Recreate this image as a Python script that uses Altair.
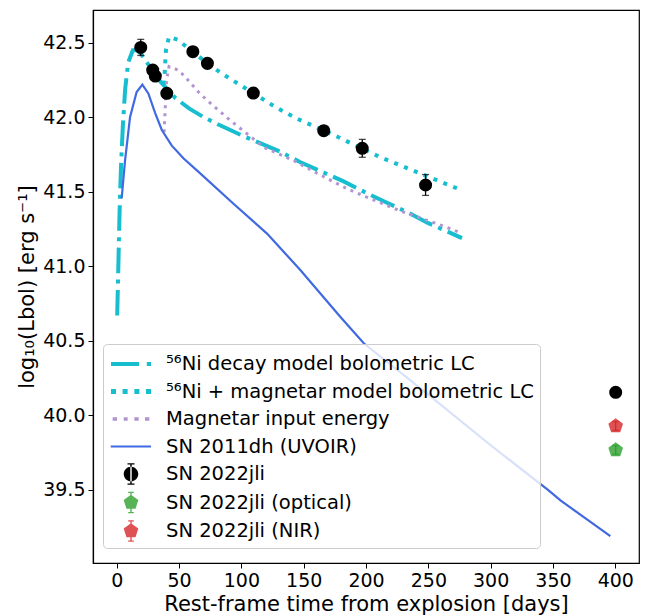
import altair as alt
import pandas as pd

# ---------------- data ----------------
ni_days = [0.4, 1.2, 1.9, 2.6, 3.6, 5.0, 6.8, 9.3, 13.0, 16.5, 20, 24, 30, 35, 47, 58, 70, 82, 100, 131, 147, 166, 182, 201, 216, 234, 250, 269, 277]
ni_L = [40.67, 40.95, 41.22, 41.45, 41.70, 41.95, 42.19, 42.37, 42.45, 42.45, 42.42, 42.37, 42.30, 42.24, 42.13, 42.06, 42.00, 41.95, 41.88, 41.77, 41.70, 41.63, 41.57, 41.49, 41.43, 41.36, 41.29, 41.22, 41.19]

mag_days = [38.0, 39.5, 42, 49, 61, 73, 85, 110, 127, 145, 153, 178, 212, 240, 275]
mag_L = [42.22, 42.45, 42.54, 42.52, 42.44, 42.36, 42.29, 42.16, 42.07, 41.99, 41.96, 41.866, 41.73, 41.635, 41.517]

inp_days = [38.0, 40, 42, 49.5, 55, 65.6, 72.3, 79, 91, 104.5, 117.8, 142, 161, 185, 200, 229, 260, 277]
inp_L = [41.90, 42.25, 42.34, 42.317, 42.27, 42.17, 42.116, 42.067, 41.98, 41.89, 41.80, 41.71, 41.624, 41.52, 41.467, 41.367, 41.277, 41.222]

dh_days = [4, 6.7, 10.7, 16, 20.6, 25.4, 30.8, 36.2, 44.2, 53.5, 67, 93.7, 120.6, 147.3, 179.5, 198.2, 250, 300, 346, 356, 396]
dh_L = [41.456, 41.71, 42.0, 42.17, 42.22, 42.16, 42.03, 41.915, 41.81, 41.725, 41.624, 41.42, 41.22, 40.976, 40.66, 40.484, 40.14, 39.80, 39.5, 39.43, 39.19]

jli_days = [19.3, 28.9, 31.0, 40.2, 61.1, 72.8, 109.6, 166.1, 197.0, 247.8, 400.3]
jli_L = [42.469, 42.317, 42.277, 42.161, 42.440, 42.362, 42.163, 41.910, 41.792, 41.546, 40.155]
jli_err = [0.054, 0.03, 0.03, 0.03, 0.03, 0.03, 0.03, 0.03, 0.06, 0.07, 0.02]

opt_days = [400.3]
opt_L = [39.768]
opt_err = [0.03]

nir_days = [400.3]
nir_L = [39.929]
nir_err = [0.03]

legend_names = [
    "\u2075\u2076Ni decay model bolometric LC",
    "\u2075\u2076Ni + magnetar model bolometric LC",
    "Magnetar input energy",
    "SN 2011dh (UVOIR)",
    "SN 2022jli",
    "SN 2022jli (optical)",
    "SN 2022jli (NIR)",
]

x_ticks = [0, 50, 100, 150, 200, 250, 300, 350, 400]
y_ticks = [39.5, 40.0, 40.5, 41.0, 41.5, 42.0, 42.5]

# ---------------- styling ----------------
FONT = "DejaVu Sans"
CYAN = "#17becf"
PURPLE = "#b294d1"
BLUE = "#4169e1"
RED = "#de5253"
GREEN = "#56b356"

PENT = "M0,-1L0.951,-0.309L0.588,0.809L-0.588,0.809L-0.951,-0.309Z"

legend_paths = [
    "M-1.43,-0.15H0.57V0.15H-1.43Z M1.13,-0.15H1.43V0.15H1.13Z",
    "M-1.43,-0.17H-1.07V0.17H-1.43Z M-0.6,-0.17H-0.24V0.17H-0.6Z M0.24,-0.17H0.6V0.17H0.24Z M1.07,-0.17H1.43V0.17H1.07Z",
    "M-1.31,-0.12H-1.0V0.12H-1.31Z M-0.52,-0.12H-0.24V0.12H-0.52Z M0.24,-0.12H0.55V0.12H0.24Z M1.0,-0.12H1.31V0.12H1.0Z",
    "M-1.45,-0.08H1.43V0.08H-1.45Z",
    "M-0.52,0A0.52,0.52 0 1,0 0.52,0A0.52,0.52 0 1,0 -0.52,0Z M-0.05,-0.72H0.05V0.72H-0.05Z M-0.25,-0.77H0.25V-0.67H-0.25Z M-0.25,0.67H0.25V0.77H-0.25Z",
    "M0,-0.55L0.523,-0.17L0.323,0.445L-0.323,0.445L-0.523,-0.17Z M-0.05,-0.72H0.05V0.72H-0.05Z M-0.2,-0.77H0.2V-0.67H-0.2Z M-0.2,0.67H0.2V0.77H-0.2Z",
    "M0,-0.55L0.523,-0.17L0.323,0.445L-0.323,0.445L-0.523,-0.17Z M-0.05,-0.72H0.05V0.72H-0.05Z M-0.2,-0.77H0.2V-0.67H-0.2Z M-0.2,0.67H0.2V0.77H-0.2Z",
]
legend_colors = [CYAN, CYAN, PURPLE, BLUE, "black", GREEN, RED]

# ---------------- frames ----------------
ni_df = pd.DataFrame({"day": ni_days, "L": ni_L})
mag_df = pd.DataFrame({"day": mag_days, "L": mag_L})
inp_df = pd.DataFrame({"day": inp_days, "L": inp_L})
dh_df = pd.DataFrame({"day": dh_days, "L": dh_L})


def pts(days, L, err):
    d = pd.DataFrame({"day": days, "L": L, "err": err})
    d["lo"] = d["L"] - d["err"]
    d["hi"] = d["L"] + d["err"]
    return d


jli_df = pts(jli_days, jli_L, jli_err)
opt_df = pts(opt_days, opt_L, opt_err)
nir_df = pts(nir_days, nir_L, nir_err)
leg_df = pd.DataFrame({"series": legend_names})

xs = alt.Scale(domain=[-19, 419], nice=False, zero=False)
ys = alt.Scale(domain=[39.01, 42.72], nice=False, zero=False)

X = alt.X("day:Q", scale=xs, axis=alt.Axis(values=x_ticks, title="Rest-frame time from explosion [days]",
                                            tickSize=5, labelPadding=3, titlePadding=3, format="d"))
Y = alt.Y("L:Q", scale=ys, axis=alt.Axis(values=y_ticks, format=".1f", title="log\u2081\u2080(Lbol) [erg s\u207b\u00b9]",
                                          tickSize=5, labelPadding=3, titlePadding=5))


def line(df, color, width, dash=None):
    kw = dict(color=color, strokeWidth=width, strokeCap="butt", clip=True)
    if dash:
        kw["strokeDash"] = dash
    return alt.Chart(df).mark_line(**kw).encode(x=X, y=Y)


ni_line = line(ni_df, CYAN, 4, [25.6, 6.4, 4, 6.4])
mag_line = line(mag_df, CYAN, 4, [4, 6.6])
inp_line = line(inp_df, PURPLE, 3, [3, 5])
dh_line = line(dh_df, BLUE, 2.2)


def errbars(df, color):
    rule = alt.Chart(df).mark_rule(color=color, strokeWidth=1.3).encode(
        x="day:Q", y="lo:Q", y2="hi:Q")
    caps_lo = alt.Chart(df).mark_tick(color=color, orient="horizontal", size=7, thickness=1.3).encode(
        x="day:Q", y="lo:Q")
    caps_hi = alt.Chart(df).mark_tick(color=color, orient="horizontal", size=7, thickness=1.3).encode(
        x="day:Q", y="hi:Q")
    return rule + caps_lo + caps_hi


jli_pts = alt.Chart(jli_df).mark_circle(color="black", size=170, opacity=1).encode(x=X, y=Y)
opt_pts = alt.Chart(opt_df).mark_point(shape=PENT, filled=True, color=GREEN, size=239, opacity=1).encode(x=X, y=Y)
nir_pts = alt.Chart(nir_df).mark_point(shape=PENT, filled=True, color=RED, size=239, opacity=1).encode(x=X, y=Y)

leg = alt.Legend(
    title=None, orient="none", legendX=10, legendY=334,
    symbolSize=784, symbolStrokeWidth=0, symbolOffset=8,
    labelOffset=21, labelFont=FONT, labelFontSize=19.5, labelColor="black", labelLimit=600,
    rowPadding=3.5, padding=6, cornerRadius=4,
    strokeColor="#cccccc", fillColor="rgba(255,255,255,0.8)",
)
legend_layer = alt.Chart(leg_df).mark_point(filled=True, opacity=1, size=784).encode(
    x=alt.value(0), y=alt.value(0),
    color=alt.Color("series:N", scale=alt.Scale(domain=legend_names, range=legend_colors), legend=leg, sort=legend_names),
    shape=alt.Shape("series:N", scale=alt.Scale(domain=legend_names, range=legend_paths), legend=leg, sort=legend_names),
).transform_filter("false")

chart = alt.layer(
    ni_line, mag_line, inp_line, dh_line,
    errbars(jli_df, "black"), jli_pts,
    opt_pts, errbars(opt_df, "#2ca02c"),
    nir_pts, errbars(nir_df, "#d62728"),
    legend_layer,
).properties(
    width=546, height=553,
    autosize=alt.AutoSizeParams(type="none"),
    padding={"left": 93, "top": 10, "right": 8, "bottom": 52},
    background="white",
).configure_view(
    stroke="black", strokeWidth=1.2
).configure_axis(
    grid=False, domainColor="black", tickColor="black", labelColor="black", titleColor="black",
    labelFont=FONT, titleFont=FONT, labelFontSize=19, titleFontSize=21, titleFontWeight="normal",
    domainWidth=1.2, tickWidth=1,
)

chart.save("out.html", embed_options={"renderer": "svg", "actions": False})
